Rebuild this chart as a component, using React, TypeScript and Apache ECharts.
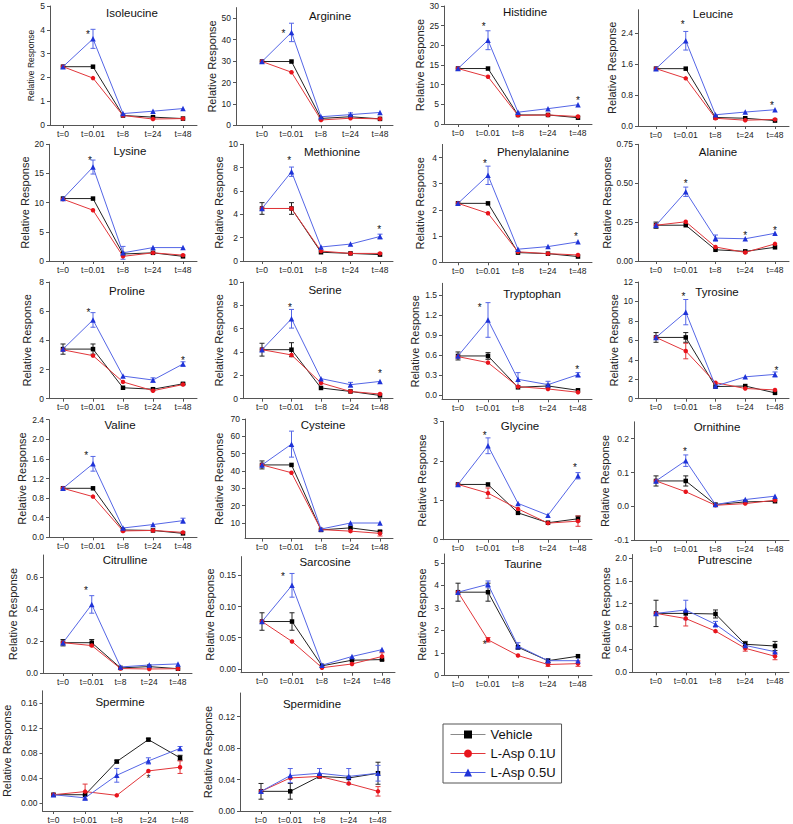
import React, { useEffect, useRef } from 'react';
import * as echarts from 'echarts';

const timeLabels = ['t=0', 't=0.01', 't=8', 't=24', 't=48'];
const seriesNames = ['Vehicle', 'L-Asp 0.1U', 'L-Asp 0.5U'];

const analytes = [
  'Isoleucine', 'Arginine', 'Histidine', 'Leucine',
  'Lysine', 'Methionine', 'Phenylalanine', 'Alanine',
  'Proline', 'Serine', 'Tryptophan', 'Tyrosine',
  'Valine', 'Cysteine', 'Glycine', 'Ornithine',
  'Citrulline', 'Sarcosine', 'Taurine', 'Putrescine',
  'Spermine', 'Spermidine',
];

const vehicle = [
  [2.45, 2.45, 0.40, 0.33, 0.27],
  [29.8, 29.8, 3.2, 4.0, 3.0],
  [14.1, 14.1, 2.3, 2.3, 1.6],
  [1.48, 1.48, 0.22, 0.20, 0.14],
  [10.7, 10.7, 1.2, 1.4, 0.8],
  [4.5, 4.5, 0.75, 0.65, 0.55],
  [2.25, 2.25, 0.37, 0.33, 0.22],
  [0.23, 0.23, 0.072, 0.062, 0.088],
  [3.4, 3.4, 0.75, 0.65, 1.02],
  [4.2, 4.2, 0.92, 0.62, 0.28],
  [0.59, 0.59, 0.12, 0.14, 0.075],
  [6.3, 6.3, 1.25, 1.3, 0.6],
  [1.0, 1.0, 0.15, 0.14, 0.08],
  [43.5, 43.5, 6.0, 7.2, 5.0],
  [1.4, 1.4, 0.68, 0.43, 0.53],
  [0.075, 0.075, 0.005, 0.013, 0.015],
  [0.19, 0.19, 0.032, 0.04, 0.027],
  [0.076, 0.076, 0.005, 0.014, 0.015],
  [3.7, 3.7, 1.25, 0.65, 0.85],
  [1.03, 1.03, 1.02, 0.49, 0.46],
  [0.014, 0.014, 0.067, 0.102, 0.073],
  [0.025, 0.025, 0.044, 0.042, 0.048],
];

const asp01 = [
  [2.45, 1.97, 0.40, 0.25, 0.27],
  [29.8, 24.8, 2.5, 3.3, 3.0],
  [14.1, 12.0, 2.2, 2.3, 1.9],
  [1.48, 1.23, 0.20, 0.15, 0.17],
  [10.6, 8.7, 0.8, 1.4, 1.0],
  [4.5, 4.5, 0.85, 0.65, 0.65],
  [2.25, 1.87, 0.40, 0.33, 0.28],
  [0.23, 0.252, 0.09, 0.055, 0.11],
  [3.35, 2.95, 1.15, 0.55, 0.97],
  [4.2, 3.75, 1.35, 0.62, 0.4],
  [0.58, 0.49, 0.13, 0.095, 0.045],
  [6.3, 4.9, 1.65, 1.05, 0.9],
  [1.0, 0.83, 0.13, 0.14, 0.10],
  [43.5, 39.0, 6.2, 5.3, 4.0],
  [1.4, 1.18, 0.78, 0.42, 0.47],
  [0.075, 0.043, 0.003, 0.008, 0.018],
  [0.19, 0.172, 0.028, 0.025, 0.027],
  [0.076, 0.044, 0.002, 0.008, 0.02],
  [3.7, 1.58, 0.88, 0.48, 0.52],
  [1.03, 0.94, 0.72, 0.42, 0.28],
  [0.014, 0.019, 0.013, 0.052, 0.058],
  [0.025, 0.042, 0.044, 0.035, 0.025],
];

const asp05 = [
  [2.45, 3.62, 0.48, 0.58, 0.69],
  [29.8, 43.4, 4.0, 5.0, 6.0],
  [14.1, 21.3, 3.0, 3.9, 4.9],
  [1.48, 2.2, 0.29, 0.36, 0.42],
  [10.7, 16.1, 1.4, 2.3, 2.3],
  [4.5, 7.65, 1.2, 1.45, 2.1],
  [2.25, 3.32, 0.5, 0.6, 0.78],
  [0.23, 0.445, 0.147, 0.143, 0.178],
  [3.4, 5.4, 1.55, 1.28, 2.38],
  [4.2, 6.85, 1.72, 1.2, 1.48],
  [0.59, 1.13, 0.24, 0.16, 0.31],
  [6.3, 8.9, 1.3, 2.25, 2.5],
  [1.0, 1.5, 0.19, 0.26, 0.34],
  [43.5, 55.5, 6.5, 10.0, 10.0],
  [1.4, 2.38, 0.92, 0.62, 1.62],
  [0.075, 0.135, 0.005, 0.02, 0.03],
  [0.19, 0.43, 0.038, 0.05, 0.057],
  [0.076, 0.134, 0.006, 0.02, 0.031],
  [3.7, 4.05, 1.3, 0.65, 0.65],
  [1.03, 1.09, 0.84, 0.47, 0.36],
  [0.014, 0.009, 0.045, 0.068, 0.088],
  [0.025, 0.045, 0.048, 0.044, 0.048],
];

const vehicleErr = [
  [0, 0, 0, 0, 0], [0, 0, 0, 0, 0], [0, 0, 0, 0, 0], [0, 0, 0, 0, 0],
  [0, 0, 0, 0, 0], [0.5, 0.5, 0, 0, 0], [0, 0, 0, 0, 0], [0.02, 0, 0, 0, 0],
  [0.35, 0.35, 0, 0, 0.05], [0.55, 0.6, 0, 0, 0], [0.06, 0.05, 0, 0, 0], [0.5, 0.5, 0, 0, 0],
  [0, 0, 0, 0, 0], [2.3, 0, 0, 0, 0], [0, 0, 0, 0, 0.07], [0.015, 0.015, 0, 0, 0],
  [0.02, 0.02, 0, 0, 0], [0.014, 0.014, 0, 0, 0], [0.4, 0.4, 0, 0, 0], [0.23, 0, 0.07, 0.05, 0.08],
  [0, 0, 0.002, 0.002, 0.004], [0.01, 0.01, 0, 0, 0.014],
];

const asp01Err = [
  [0, 0, 0, 0, 0], [0, 0, 0, 0, 0], [0, 0, 0, 0, 0], [0, 0, 0, 0, 0],
  [0, 0, 0, 0, 0], [0, 0, 0, 0, 0], [0, 0, 0, 0, 0], [0, 0, 0, 0, 0],
  [0, 0, 0, 0, 0], [0, 0, 0, 0, 0], [0, 0, 0, 0, 0], [0, 0.8, 0, 0, 0],
  [0, 0, 0, 0, 0], [0, 0, 0, 0, 1.5], [0, 0.13, 0, 0, 0.13], [0, 0, 0, 0, 0],
  [0, 0, 0, 0, 0], [0, 0, 0, 0, 0.006], [0, 0.1, 0, 0.08, 0.12], [0, 0.13, 0, 0.05, 0.06],
  [0, 0.012, 0, 0, 0.01], [0, 0, 0, 0, 0.006],
];

const asp05Err = [
  [0, 0.4, 0, 0, 0], [0, 4.3, 0, 0.8, 0], [0, 2.4, 0, 0, 0], [0, 0.24, 0, 0, 0],
  [0, 1.2, 1.1, 0, 0], [0, 0.4, 0, 0, 0.2], [0, 0.35, 0, 0, 0], [0, 0.03, 0.02, 0, 0],
  [0, 0.5, 0, 0.15, 0.15], [0, 0.8, 0, 0.2, 0], [0, 0.26, 0.1, 0.05, 0.03], [0, 1.3, 0, 0, 0.25],
  [0, 0.15, 0, 0, 0.05], [0, 7.5, 0, 0, 0], [0, 0.2, 0, 0, 0.08], [0, 0.017, 0, 0, 0],
  [0, 0.055, 0, 0, 0], [0, 0.019, 0, 0, 0], [0, 0.15, 0.15, 0.08, 0], [0, 0.17, 0.05, 0, 0],
  [0, 0.004, 0.011, 0.005, 0.003], [0, 0.009, 0.006, 0.01, 0.01],
];

// significance marks: [time index position, value]
const stars = [
  [[0.83, 3.87]], [[0.73, 43.6]], [[0.86, 25.4], [4.0, 6.6]], [[0.9, 2.66], [3.9, 0.59]],
  [[0.9, 17.6]], [[0.92, 8.8], [3.97, 2.85]], [[0.9, 3.84], [3.93, 1.07]], [[1.0, 0.51], [3.0, 0.178], [4.0, 0.21]],
  [[0.85, 6.05], [4.0, 2.79]], [[0.95, 7.95], [4.0, 2.35]], [[0.72, 1.35], [3.97, 0.42]], [[0.92, 10.7], [4.05, 3.1]],
  [[0.77, 1.71]], [], [[0.89, 2.68], [3.9, 1.89]], [[0.97, 0.167]],
  [[0.8, 0.53]], [[0.7, 0.151]], [[0.89, 1.44]], [],
  [[3.0, 0.043]], [],
];

const yTicks = [
  [0, 1, 2, 3, 4, 5], [0, 10, 20, 30, 40, 50], [0, 5, 10, 15, 20, 25, 30], [0, 0.8, 1.6, 2.4],
  [0, 5, 10, 15, 20], [0, 2, 4, 6, 8, 10], [0, 1, 2, 3, 4], [0, 0.25, 0.5, 0.75],
  [0, 2, 4, 6, 8], [0, 2, 4, 6, 8, 10], [0, 0.3, 0.6, 0.9, 1.2, 1.5], [0, 2, 4, 6, 8, 10, 12],
  [0, 0.4, 0.8, 1.2, 1.6, 2.0, 2.4], [10, 20, 30, 40, 50, 60, 70], [0, 1, 2, 3], [-0.1, 0, 0.1, 0.2],
  [0, 0.2, 0.4, 0.6], [0, 0.05, 0.1, 0.15], [0, 1, 2, 3, 4, 5], [0, 0.4, 0.8, 1.2, 1.6, 2.0],
  [0, 0.04, 0.08, 0.12, 0.16], [0, 0.04, 0.08, 0.12],
];
const yDecimals = [0, 0, 0, 1, 0, 0, 0, 2, 0, 0, 1, 0, 1, 0, 0, 1, 1, 2, 0, 1, 2, 2];
const yRanges = [
  [0, 5], [0, 55], [0, 30], [0, 3],
  [0, 20], [0, 10], [0, 4.5], [0, 0.75],
  [0, 8], [0, 10], [-0.06, 1.68], [0, 12],
  [0, 2.4], [1, 70], [0, 3], [-0.1, 0.25],
  [0, 0.74], [-0.006, 0.18], [0, 5.4], [0, 2.06],
  [-0.012, 0.18], [0, 0.15],
];

// pixel layout: [axisLeft, firstX, lastX, axisRight, top, bottom, titleX, titleY, nameX, nameFont]
const layout = [
  [50, 63, 183, 197, 6, 125, 132, 12.7, 31.7, 8.5],
  [236, 262, 380, 393, 7.6, 125.3, 330, 16, 220, 11],
  [444, 458, 578, 592, 6, 124, 525, 12, 420, 11],
  [638, 656, 775, 789, 9.75, 126, 713, 14, 617.7, 11],
  [49, 63, 183, 197, 144.3, 261, 130, 151, 25, 11],
  [243, 262, 380, 393, 144.3, 261, 332, 151.7, 222.7, 11],
  [442, 458, 578, 592, 144.4, 262.3, 533, 152, 420, 11],
  [638, 656, 775, 789, 144.3, 261, 718, 152, 613, 11],
  [49, 63, 183, 197, 282, 398.7, 127, 291, 26.7, 11],
  [243, 262, 380, 393, 282, 398.7, 325, 290, 222.7, 11],
  [442, 458, 578, 592, 283.3, 399.3, 532, 293.7, 415, 11],
  [638, 656, 775, 789, 282, 398.7, 717, 292, 614, 11],
  [49, 63, 183, 197, 419.7, 537.3, 120, 424.7, 21.7, 11],
  [245, 262, 380, 393, 419, 538.6, 323, 424.7, 219, 11],
  [443, 458, 578, 592, 421.3, 539.7, 520, 426, 421.7, 11],
  [634, 656, 775, 789, 421.8, 540.1, 717, 427, 611.7, 11],
  [43, 63, 178, 192, 555, 673, 125, 560, 13.3, 11],
  [241, 262, 382, 395, 556.6, 672.7, 325, 562, 216.7, 11],
  [444, 458, 578, 592, 554, 675.3, 523, 563.7, 421.7, 11],
  [632, 656, 775, 789, 554.5, 672.3, 725, 559.7, 613, 11],
  [42, 53, 180, 193, 690.8, 811.5, 120, 701.7, 6, 11],
  [240, 261, 378, 391, 693, 811.7, 312, 704, 208.3, 11],
];

const FONT = '"Liberation Sans", Arial, Helvetica, sans-serif';
const AXIS = '#555';
const lineColors = ['#222222', '#e2363a', '#5566e6'];
const markColors = ['#000000', '#e8141c', '#1f33d8'];
const legendLineColors = ['#8a8a8a', '#e2363a', '#5566e6'];
const symbols = ['rect', 'circle', 'triangle'];
const symbolSizes = [4.5, 4.5, 5.5];

function errRenderer(color: string) {
  return (params: any, api: any) => {
    const x = api.value(0);
    const y = api.value(1);
    const e = api.value(2);
    if (!e) return { type: 'group', children: [] };
    const p1 = api.coord([x, y + e]);
    const p2 = api.coord([x, y - e]);
    const w = 2.5;
    const st = { stroke: color, lineWidth: 1 };
    return {
      type: 'group',
      children: [
        { type: 'line', shape: { x1: p1[0], y1: p1[1], x2: p2[0], y2: p2[1] }, style: st },
        { type: 'line', shape: { x1: p1[0] - w, y1: p1[1], x2: p1[0] + w, y2: p1[1] }, style: st },
        { type: 'line', shape: { x1: p2[0] - w, y1: p2[1], x2: p2[0] + w, y2: p2[1] }, style: st },
      ],
    };
  };
}

function starRenderer(params: any, api: any) {
  const c = api.coord([api.value(0), api.value(1)]);
  return {
    type: 'text',
    x: c[0],
    y: c[1] + 2,
    style: { text: '*', fontSize: 10, fontFamily: FONT, fill: '#111', align: 'center', verticalAlign: 'middle' },
  };
}

function buildOption() {
  const grid: any[] = [];
  const xAxis: any[] = [];
  const yAxis: any[] = [];
  const series: any[] = [];
  const graphic: any[] = [];
  const groups = [vehicle, asp01, asp05];
  const errs = [vehicleErr, asp01Err, asp05Err];

  analytes.forEach((name, i) => {
    const [L, F, La, R, T, B, tx, ty, nx, nf] = layout[i];
    const s = (La - F) / 4;
    grid.push({ left: L, top: T, width: R - L, height: B - T, containLabel: false });
    xAxis.push({
      gridIndex: i,
      type: 'value',
      min: -(F - L) / s,
      max: 4 + (R - La) / s,
      splitLine: { show: false },
      axisLine: { show: true, onZero: false, lineStyle: { color: AXIS, width: 1 } },
      axisTick: { show: true, customValues: [0, 1, 2, 3, 4], length: 3, lineStyle: { color: AXIS } },
      axisLabel: {
        customValues: [0, 1, 2, 3, 4],
        formatter: (v: number) => timeLabels[Math.round(v)],
        fontSize: 8.5,
        fontFamily: FONT,
        color: '#222',
        margin: 4,
      },
    });
    yAxis.push({
      gridIndex: i,
      type: 'value',
      min: yRanges[i][0],
      max: yRanges[i][1],
      splitLine: { show: false },
      axisLine: { show: true, onZero: false, lineStyle: { color: AXIS, width: 1 } },
      axisTick: { show: true, customValues: yTicks[i], length: 3, lineStyle: { color: AXIS } },
      axisLabel: {
        customValues: yTicks[i],
        formatter: (v: number) => v.toFixed(yDecimals[i]),
        fontSize: 8.5,
        fontFamily: FONT,
        color: '#222',
        margin: 5,
      },
      name: 'Relative Response',
      nameLocation: 'middle',
      nameGap: L - nx - nf / 2,
      nameTextStyle: { fontSize: nf, fontFamily: FONT, color: '#222' },
    });

    groups.forEach((g, k) => {
      series.push({
        type: 'custom',
        xAxisIndex: i,
        yAxisIndex: i,
        silent: true,
        clip: false,
        z: 1,
        data: g[i].map((v, t) => [t, v, errs[k][i][t]]),
        renderItem: errRenderer(lineColors[k]),
      });
    });
    groups.forEach((g, k) => {
      series.push({
        type: 'line',
        name: seriesNames[k],
        xAxisIndex: i,
        yAxisIndex: i,
        z: 2 + k,
        data: g[i].map((v, t) => [t, v]),
        symbol: symbols[k],
        symbolSize: symbolSizes[k],
        showSymbol: true,
        lineStyle: { color: lineColors[k], width: 1 },
        itemStyle: { color: markColors[k] },
        emphasis: { disabled: true },
      });
    });
    series.push({
      type: 'custom',
      xAxisIndex: i,
      yAxisIndex: i,
      silent: true,
      clip: false,
      z: 6,
      data: stars[i],
      renderItem: starRenderer,
    });

    graphic.push({
      type: 'text',
      x: tx,
      y: ty,
      style: { text: name, fontSize: 11.5, fontFamily: FONT, fill: '#111', align: 'center', verticalAlign: 'middle' },
    });
  });

  return {
    animation: false,
    backgroundColor: '#ffffff',
    grid,
    xAxis,
    yAxis,
    series,
    graphic,
    legend: {
      data: seriesNames.map((n, k) => ({
        name: n,
        lineStyle: { color: legendLineColors[k], width: 1 },
        itemStyle: { color: markColors[k] },
      })),
      orient: 'vertical',
      left: 443,
      top: 724,
      itemWidth: 35,
      itemHeight: 10,
      itemGap: 6,
      padding: [4, 6, 4, 7],
      borderColor: '#555',
      borderWidth: 1,
      backgroundColor: '#fff',
      textStyle: { fontSize: 13, fontFamily: FONT, color: '#111' },
      selectedMode: false,
    },
  };
}

export default function App() {
  const ref = useRef<HTMLDivElement>(null);
  useEffect(() => {
    if (!ref.current) return;
    const chart = echarts.init(ref.current, undefined, { renderer: 'svg' });
    chart.setOption(buildOption() as any);
    return () => chart.dispose();
  }, []);
  return (
    <div
      ref={ref}
      style={{ position: 'fixed', left: 0, top: 0, width: 793, height: 824, background: '#fff' }}
    />
  );
}
